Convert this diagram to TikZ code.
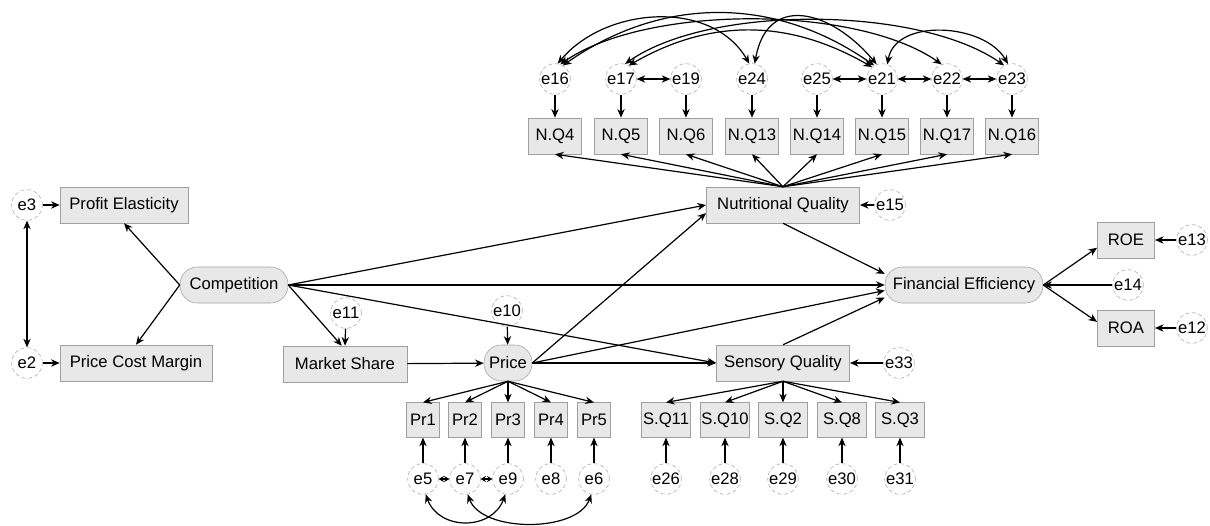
\documentclass[tikz,border=0pt]{standalone}
\usepackage{fontspec}
\setmainfont{Liberation Sans}
\usetikzlibrary{arrows.meta}

\begin{document}
\begin{tikzpicture}[x=0.75pt, y=-0.75pt, >={Stealth[length=6.5pt,width=5.5pt]},
	font=\fontsize{12.5}{14}\selectfont,
	obs/.style={draw=gray!75, fill=gray!18, minimum height=27pt, inner sep=0pt},
	lat/.style={obs, rounded corners=13pt},
	err/.style={circle, draw=gray!70, densely dashed, fill=white, inner sep=0pt, minimum size=23pt},
	reg/.style={->, line width=0.9pt},
	cov/.style={<->, line width=0.9pt},
	shortcov/.style={cov, >={Stealth[length=4pt,width=4.5pt]}}]
	
	% Frame
	\useasboundingbox (0,0) rectangle (1210,525);
	
	% Latent variables
	\node[lat, minimum width=81pt] (comp) at (234,285) {Competition};
	\node[lat, minimum width=36pt] (price) at (508,363) {Price};
	\node[lat, minimum width=118.5pt] (fe) at (964,285) {Financial Efficiency};
	
	% Observed variables
	\node[obs, minimum width=96pt] (pe) at (124,205) {Profit Elasticity};
	\node[obs, minimum width=114pt] (pcm) at (136,363) {Price Cost Margin};
	\node[obs, minimum width=93pt] (ms) at (345,364) {Market Share};
	\node[obs, minimum width=115pt] (nq) at (783,205) {Nutritional Quality};
	\node[obs, minimum width=100pt] (sq) at (783,363) {Sensory Quality};
	\node[obs, minimum width=43pt] (roe) at (1126,240) {ROE};
	\node[obs, minimum width=43pt] (roa) at (1126,328) {ROA};
	
	% Errors
	\node[err] (e3) at (27,205) {e3};
	\node[err] (e2) at (27,363) {e2};
	\node[err] (e11) at (346,313) {e11};
	\node[err] (e10) at (507,311) {e10};
	\node[err] (e15) at (890,205) {e15};
	\node[err] (e33) at (899,363) {e33};
	\node[err] (e14) at (1128,285) {e14};
	\node[err] (e13) at (1192,240) {e13};
	\node[err] (e12) at (1192,328) {e12};
	
	% Nutritional items
	\foreach \n/\q/\x in {16/4/555,17/5/621,19/6/686,24/13/752,25/14/817,21/15/882,22/17/947,23/16/1012} {
		\node[obs, minimum width=40pt] (nq\q) at (\x,136) {N.Q\q};
		\node[err] (e\n) at (\x,79) {e\n};
		\draw[reg] (e\n) -- (nq\q);
		\draw[reg] (nq.north) -- (nq\q.south);
	}
	
	% Price items
	\foreach \i/\n/\x in {1/5/423,2/7/465,3/9/508,4/8/551,5/6/594} {
		\node[obs, minimum width=25pt, minimum height=26pt] (pr\i) at (\x,420) {Pr\i};
		\node[err] (e\n) at (\x,479) {e\n};
		\draw[reg] (e\n) -- (pr\i);
		\draw[reg] (price.south) -- (pr\i.north);
	}
	
	% Sensory items
	\foreach \q/\n/\x in {11/26/666,10/28/725,2/29/783,8/30/842,3/31/900} {
		\node[obs, minimum width=37pt, minimum height=26pt] (sq\q) at (\x,420) {S.Q\q};
		\node[err] (e\n) at (\x,479) {e\n};
		\draw[reg] (e\n) -- (sq\q);
		\draw[reg] (sq.south) -- (sq\q.north);
	}
	
	% Structural paths
	\draw[reg] (comp.west) -- (pe.south);
	\draw[reg] (comp.west) -- (pcm.north);
	\draw[reg] (comp.east) -- (nq.west);
	\draw[reg] (comp.east) -- (fe.west);
	\draw[reg] (comp.east) -- (sq.west);
	\draw[reg] (comp.east) -- (ms.100);
	\draw[reg] (ms) -- (price);
	\draw[reg] (price.east) -- (nq.186);
	\draw[reg] (price.east) -- (fe.184);
	\draw[reg] (price.east) -- (sq.west);
	\draw[reg] (nq.south) -- (fe.172);
	\draw[reg] (sq.north) -- (fe.189);
	\draw[reg] (fe.east) -- (roe.195);
	\draw[reg] (fe.east) -- (roa.168);
	
	% Error paths
	\draw[reg] (e3) -- (pe);
	\draw[reg] (e2) -- (pcm);
	\draw[reg] (e11) -- (ms.north);
	\draw[reg] (e10) -- (price);
	\draw[reg] (e15) -- (nq);
	\draw[reg] (e33) -- (sq);
	\draw[reg] (e14) -- (fe.east);
	\draw[reg] (e13) -- (roe);
	\draw[reg] (e12) -- (roa);
	
	% Covariances
	\draw[cov] (e3) -- (e2);
	\draw[shortcov] (e5) -- (e7);
	\draw[shortcov] (e7) -- (e9);
	\draw[cov] (e5.-80) to[out=-70, in=-110, looseness=1.25] (e9.-100);
	\draw[cov] (e7.-80) to[out=-70, in=-110, looseness=0.85] (e6.-100);
	\draw[cov] (e17) -- (e19);
	\draw[cov] (e25) -- (e21);
	\draw[cov] (e21) -- (e22);
	\draw[cov] (e22) -- (e23);
	\draw[cov] (e16.60) to[out=35, in=145] (e21.120);
	\draw[cov] (e16.70) to[out=35, in=145, looseness=0.7] (e22.110);
	\draw[cov] (e16.80) to[out=50, in=120] (e24.100);
	\draw[cov] (e17.60) to[out=30, in=150] (e21.130);
	\draw[cov] (e17.75) to[out=35, in=145, looseness=0.7] (e23.120);
	\draw[cov] (e24.80) to[out=80, in=130, looseness=1.5] (e21.110);
	\draw[cov] (e21.70) to[out=80, in=120] (e23.105);
	
\end{tikzpicture}
\end{document}
